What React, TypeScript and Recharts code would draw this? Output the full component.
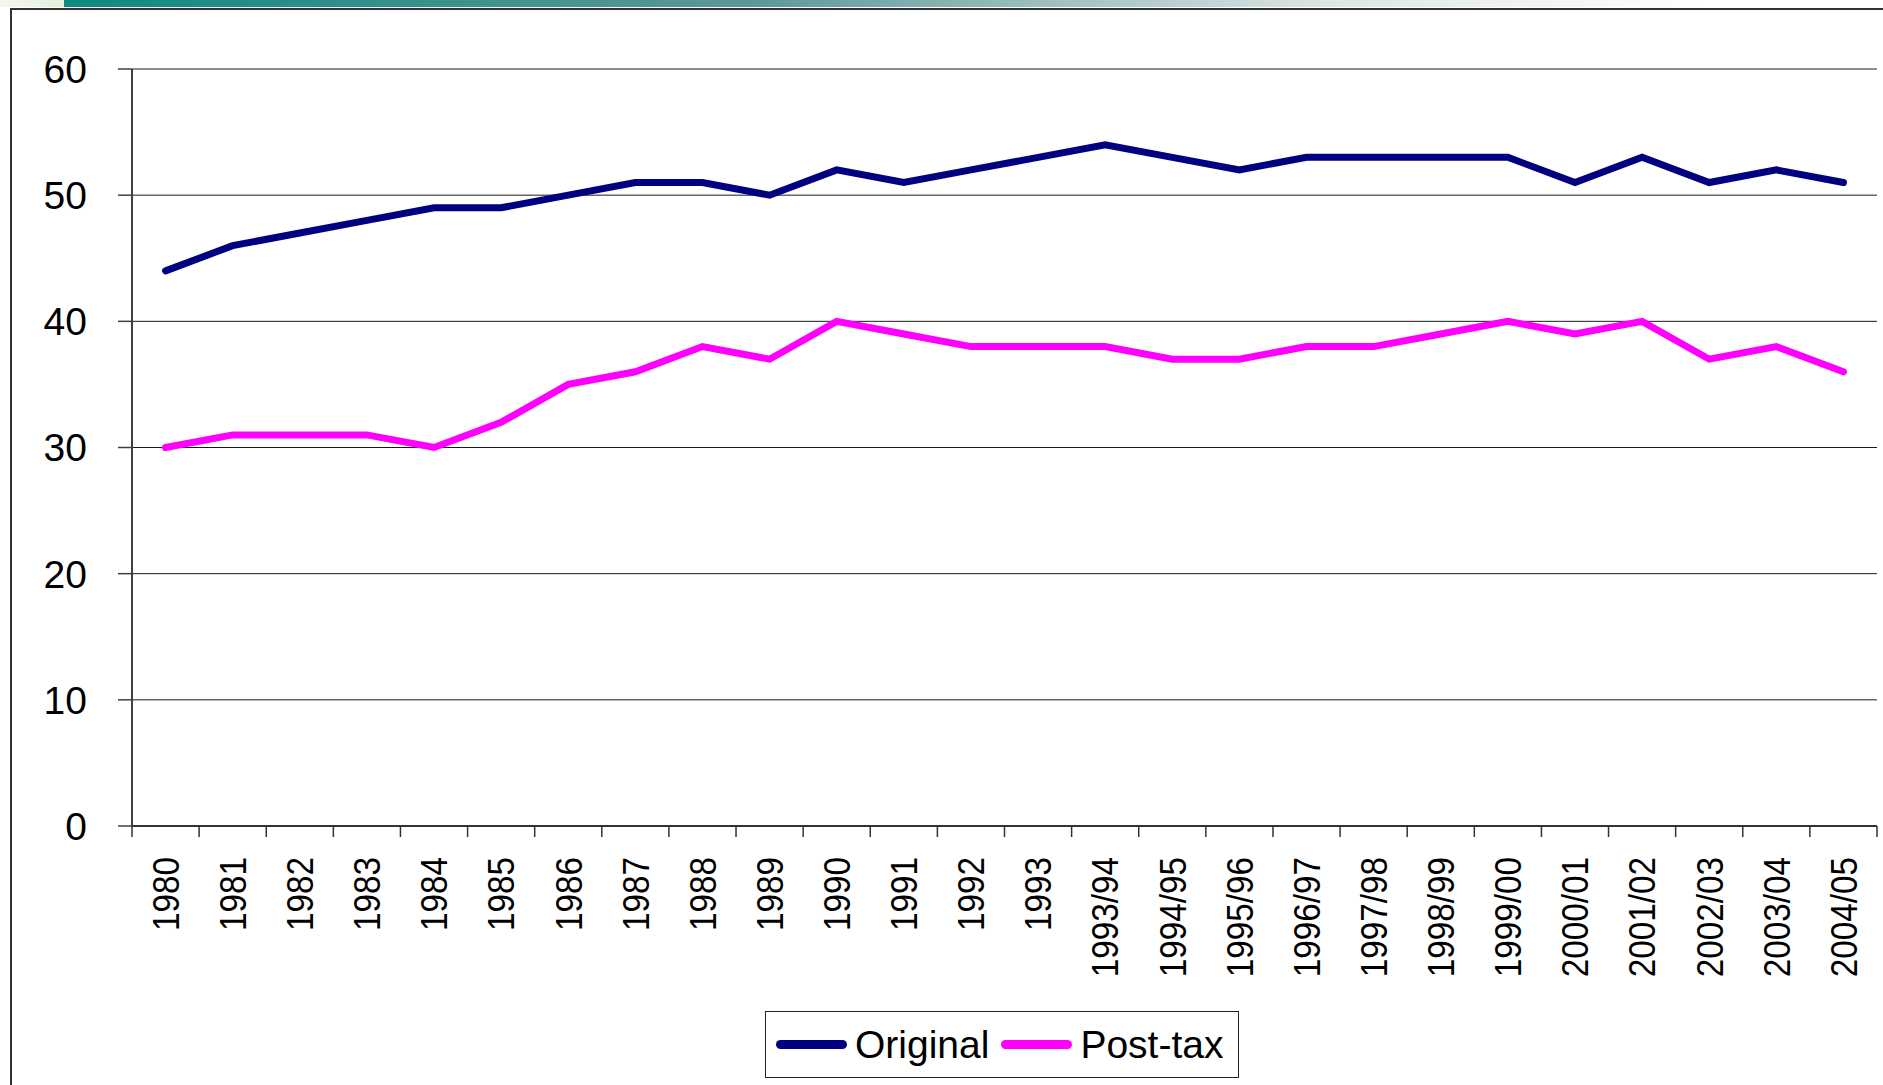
import { LineChart, Line, XAxis, YAxis, CartesianGrid, Legend } from 'recharts'

const years = [
  '1980', '1981', '1982', '1983', '1984', '1985', '1986', '1987', '1988', '1989',
  '1990', '1991', '1992', '1993', '1993/94', '1994/95', '1995/96', '1996/97',
  '1997/98', '1998/99', '1999/00', '2000/01', '2001/02', '2002/03', '2003/04', '2004/05',
]

const original = [44, 46, 47, 48, 49, 49, 50, 51, 51, 50, 52, 51, 52, 53, 54, 53, 52, 53, 53, 53, 53, 51, 53, 51, 52, 51]
const postTax = [30, 31, 31, 31, 30, 32, 35, 36, 38, 37, 40, 39, 38, 38, 38, 37, 37, 38, 38, 39, 40, 39, 40, 37, 38, 36]

const yTicks = [0, 10, 20, 30, 40, 50, 60]

const data = years.map((year, i) => ({ year, original: original[i], postTax: postTax[i] }))

const FONT = '"Liberation Sans", Arial, sans-serif'
const W = 1883
const H = 1085
const PLOT_LEFT = 132
const PLOT_RIGHT = 1877
const AXIS_Y = 826
const BAND = (PLOT_RIGHT - PLOT_LEFT) / years.length

// eslint-disable-next-line @typescript-eslint/no-explicit-any
function YearTick({ x, payload, index }: any) {
  const left = x - BAND / 2
  const right = x + BAND / 2
  return (
    <g>
      <line x1={left} x2={left} y1={AXIS_Y} y2={AXIS_Y + 11} stroke="#333" strokeWidth={1.5} />
      {index === years.length - 1 && (
        <line x1={right} x2={right} y1={AXIS_Y} y2={AXIS_Y + 11} stroke="#333" strokeWidth={1.5} />
      )}
      <text
        transform={`translate(${x},${AXIS_Y + 31}) rotate(-90) scale(0.9,1)`}
        textAnchor="end"
        dy="0.36em"
        fontSize={37}
        fontFamily={FONT}
        fill="#000"
      >
        {payload.value}
      </text>
    </g>
  )
}

// eslint-disable-next-line @typescript-eslint/no-explicit-any
function BoxLegend({ payload }: any) {
  return (
    <div
      style={{
        boxSizing: 'border-box',
        width: 474,
        height: 67,
        border: '1.5px solid #222',
        background: '#fff',
        display: 'flex',
        alignItems: 'center',
        paddingLeft: 10,
        fontFamily: FONT,
        fontSize: 39,
        color: '#000',
        whiteSpace: 'nowrap',
      }}
    >
      {payload?.map((entry: any, i: number) => (
        <span key={entry.value} style={{ display: 'flex', alignItems: 'center', marginLeft: i === 0 ? 0 : 12 }}>
          <span style={{ width: 71, height: 9, borderRadius: 5, background: entry.color, marginRight: 8 }} />
          {entry.value}
        </span>
      ))}
    </div>
  )
}

export default function App() {
  return (
    <div
      style={{
        position: 'absolute',
        left: 0,
        top: 0,
        width: W,
        height: H,
        background: '#fff',
        overflow: 'hidden',
      }}
    >
      {/* slide decoration */}
      <div style={{ position: 'absolute', left: 0, top: 0, width: 64, height: 7, background: 'linear-gradient(90deg, #f3f8ee, #e6f0dc)' }} />
      <div
        style={{
          position: 'absolute',
          left: 64,
          top: 0,
          width: W - 64,
          height: 7,
          background: 'linear-gradient(90deg, #0f8a7e 0%, #5d9898 38%, #dfe6e6 70%, #ffffff 90%)',
        }}
      />
      <div style={{ position: 'absolute', left: 10, top: 8, width: W - 10, height: 2, background: '#333' }} />
      <div style={{ position: 'absolute', left: 10, top: 8, width: 2, height: H - 8, background: '#333' }} />

      <div style={{ position: 'absolute', left: 0, top: 0 }}>
        <LineChart width={W} height={H} data={data} margin={{ top: 69, right: 6, left: 12, bottom: 119 }}>
          <CartesianGrid horizontal vertical={false} stroke="#1a1a1a" strokeWidth={1} />
          <XAxis
            dataKey="year"
            scale="band"
            interval={0}
            height={140}
            tickLine={false}
            axisLine={{ stroke: '#333', strokeWidth: 2 }}
            tick={<YearTick />}
          />
          <XAxis xAxisId="top" orientation="top" dataKey="year" height={0} tick={false} tickLine={false} axisLine={{ stroke: '#8c8c8c', strokeWidth: 3 }} />
          <YAxis
            domain={[0, 60]}
            ticks={yTicks}
            width={120}
            tickSize={14}
            tickMargin={31}
            axisLine={{ stroke: '#404040', strokeWidth: 2 }}
            tickLine={{ stroke: '#404040', strokeWidth: 1.5 }}
            tick={{ fontSize: 39, fill: '#000', fontFamily: FONT }}
          />
          <YAxis yAxisId="right" orientation="right" domain={[0, 60]} width={0} tick={false} tickLine={false} axisLine={{ stroke: '#8c8c8c', strokeWidth: 3 }} />
          <Line
            type="linear"
            dataKey="original"
            name="Original"
            stroke="#000080"
            strokeWidth={7}
            strokeLinejoin="miter"
            strokeLinecap="round"
            dot={false}
            activeDot={false}
            isAnimationActive={false}
          />
          <Line
            type="linear"
            dataKey="postTax"
            name="Post-tax"
            stroke="#ff00ff"
            strokeWidth={7}
            strokeLinejoin="miter"
            strokeLinecap="round"
            dot={false}
            activeDot={false}
            isAnimationActive={false}
          />
          <Legend
            layout="horizontal"
            verticalAlign="middle"
            align="center"
            content={<BoxLegend />}
            wrapperStyle={{ position: 'absolute', left: 765, top: 1011, width: 474, height: 67 }}
          />
        </LineChart>
      </div>
    </div>
  )
}
